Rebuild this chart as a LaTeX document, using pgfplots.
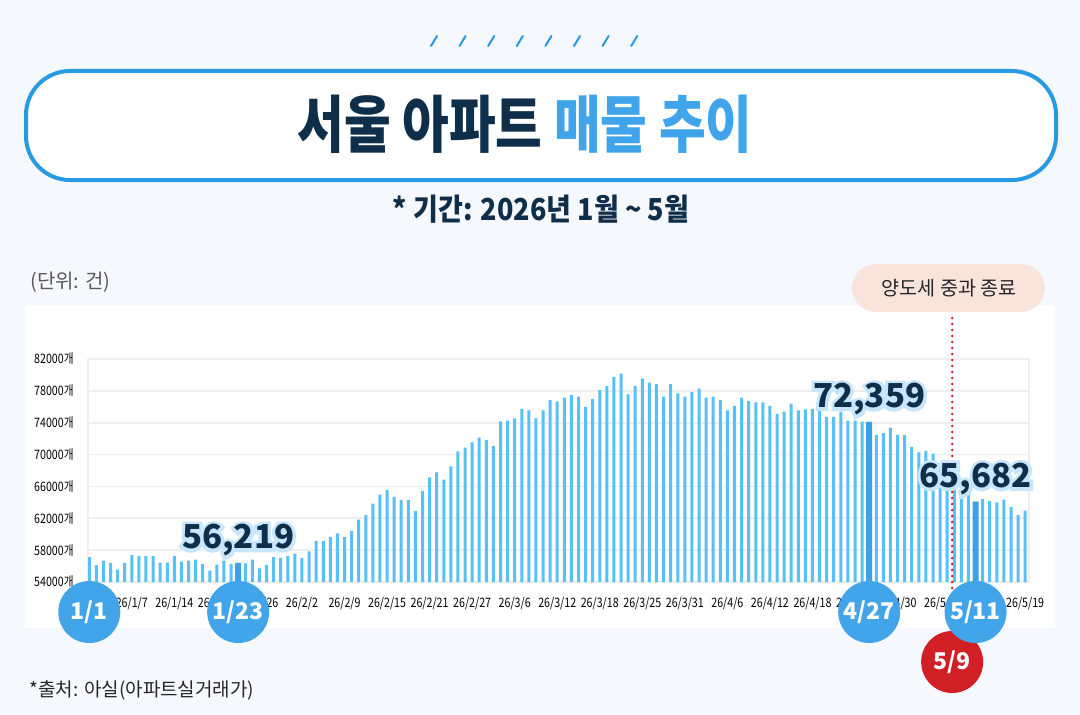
\documentclass[border=0pt]{standalone}
\usepackage{fontspec}
\setmainfont{Noto Sans CJK KR}
\newfontfamily\glowfont{Noto Sans CJK KR}[FakeBold=20, BoldFeatures={FakeBold=20}]
\usepackage{graphicx}
\usepackage{pgfplots}
\pgfplotsset{compat=1.18}
\usepackage{pgfplotstable}
\usetikzlibrary{calc}

\definecolor{bgc}{RGB}{245,249,254}
\definecolor{tblue}{RGB}{40,154,226}
\definecolor{navy}{RGB}{14,46,74}
\definecolor{titleblue}{RGB}{64,164,234}
\definecolor{lbar}{RGB}{88,192,246}
\definecolor{dbar}{RGB}{62,160,232}
\definecolor{cblue}{RGB}{66,165,234}
\definecolor{cred}{RGB}{208,32,38}
\definecolor{badgec}{RGB}{249,228,220}
\definecolor{glowc}{RGB}{200,230,251}
\definecolor{gridc}{RGB}{238,238,238}

\newcommand\sx[1]{\scalebox{0.82}[1]{#1}}
\newcommand\valfont{\fontsize{16.5pt}{18pt}\selectfont\bfseries}
\newcommand\glow[2]{%
  \node[font=\glowfont\valfont, text=glowc, anchor=base, inner sep=0pt] at ($(#1)+(0,7pt)$) {#2};%
  \node[font=\valfont, text=navy, anchor=base, inner sep=0pt] at ($(#1)+(0,7pt)$) {#2};%
}

\pgfplotstableread{
idx val
0 57140
1 56135
2 56680
3 56390
4 55550
5 56390
6 57390
7 57260
8 57260
9 57260
10 56430
11 56430
12 57260
13 56550
14 56680
15 56800
16 56260
17 55420
18 56180
19 56680
20 56260
21 56390
22 56330
23 56800
24 55720
25 56130
26 57140
27 57010
28 57260
29 57560
30 57010
31 57850
32 59150
33 59150
34 59650
35 60120
36 59650
37 60400
38 61830
39 62410
40 63840
41 64970
42 65560
43 64680
44 64300
45 64300
46 62940
47 65430
48 67150
49 67780
50 66850
51 68530
52 70410
53 70870
54 71540
55 72120
56 71830
57 71080
58 74180
59 74260
60 74560
61 75730
62 75560
63 74560
64 75560
65 76860
66 76690
67 77150
68 77450
69 77280
70 75980
71 76990
72 78110
73 78580
74 79710
75 80160
76 77570
77 78580
78 79540
79 79040
80 78870
81 77280
82 78870
83 77700
84 77280
85 77830
86 78280
87 77150
88 77280
89 76860
90 75560
91 76110
92 77150
93 76730
94 76570
95 76570
96 76110
97 75100
98 75390
99 76390
100 75560
101 75690
102 75730
103 75520
104 74720
105 74720
106 75390
107 74260
108 74260
109 74130
110 74100
111 72460
112 72680
113 73380
114 72460
115 72460
116 70960
117 70290
118 70460
119 70120
120 68900
121 68200
122 67400
123 66600
124 66000
125 64090
126 64420
127 64170
128 64010
129 64340
130 63420
131 62410
132 62960
}\mydata

\pgfplotstableread{
idx val
21 56390
110 74100
125 64090
}\hldata

\begin{document}
\begin{tikzpicture}
\useasboundingbox (0,0) rectangle (540pt,357pt);
\fill[bgc] (0,0) rectangle (540pt,357pt);
\begin{scope}[x=0.5pt,y=-0.5pt,shift={(0pt,357pt)}]
  \foreach \i in {0,...,7}{\draw[tblue, line width=1pt, line cap=round] ({431+28.6*\i},46) -- ({437+28.6*\i},36);}
  \draw[tblue, line width=2pt, fill=white, rounded corners=22pt] (26,71) rectangle (1056,180);
  \node[font=\fontsize{27pt}{30pt}\selectfont\bfseries, inner sep=0pt] at (525,124)
     {\scalebox{0.94}[1.15]{\textcolor{navy}{서울 아파트} \textcolor{titleblue}{매물 추이}}};
  \node[font=\fontsize{13.5pt}{15pt}\selectfont\bfseries, text=navy, inner sep=0pt] at (541,209)
     {\scalebox{1}[1.12]{* 기간: 2026년 1월 \textasciitilde{} 5월}};
  \node[font=\fontsize{10pt}{12pt}\selectfont, text=black!65, anchor=west, inner sep=0pt] at (30,282) {(단위: 건)};
  \fill[white] (25,305) rectangle (1055,628);
  \fill[badgec, rounded corners=12pt] (852,264) rectangle (1045,312);
  \node[font=\fontsize{9.8pt}{12pt}\selectfont, text=black!85, inner sep=0pt] at (949,288) {양도세 중과 종료};
  \node[font=\fontsize{9.5pt}{12pt}\selectfont, text=black!85, anchor=west, inner sep=0pt] at (29,690) {*출처: 아실(아파트실거래가)};
\end{scope}

\begin{axis}[
  at={(44pt,66pt)}, anchor=south west, scale only axis,
  width=470.5pt, height=111.5pt,
  xmin=-0.18, xmax=132.54, ymin=54000, ymax=82000,
  axis line style={draw=gridc, line width=0.7pt},
  ymajorgrids, grid style={draw=gridc, line width=0.9pt},
  major tick length=0pt,
  scaled y ticks=false,
  ytick={54000,58000,62000,66000,70000,74000,78000,82000},
  yticklabels={\sx{54000개},\sx{58000개},\sx{62000개},\sx{66000개},\sx{70000개},\sx{74000개},\sx{78000개},\sx{82000개}},
  yticklabel style={font=\fontsize{6.5pt}{7pt}\selectfont, text=black, anchor=east, inner sep=0pt, xshift=-7pt},
  xtick={0,6,...,132},
  xticklabels={{},\sx{26/1/7},\sx{26/1/14},\sx{26/1/20},\sx{26/1/26},\sx{26/2/2},\sx{26/2/9},\sx{26/2/15},\sx{26/2/21},\sx{26/2/27},\sx{26/3/6},\sx{26/3/12},\sx{26/3/18},\sx{26/3/25},\sx{26/3/31},\sx{26/4/6},\sx{26/4/12},\sx{26/4/18},\sx{26/4/24},\sx{26/4/30},\sx{26/5/6},{},\sx{26/5/19}},
  xticklabel style={font=\fontsize{6.5pt}{7pt}\selectfont, text=black, anchor=center, inner sep=0pt, yshift=-10.5pt},
  ybar,
]
\addplot[draw=none, fill=lbar, bar width=1.5pt, bar shift=0pt] table[x=idx,y=val]{\mydata};
\addplot[draw=none, fill=dbar, bar width=3pt, bar shift=0pt] table[x=idx,y=val]{\hldata};
\coordinate (p0) at (axis cs:0,54000);
\coordinate (p21) at (axis cs:21,54000);
\coordinate (p110) at (axis cs:110,54000);
\coordinate (p125) at (axis cs:125,54000);
\coordinate (t21) at (axis cs:21,56390);
\coordinate (t110) at (axis cs:110,74100);
\coordinate (t125) at (axis cs:125,64090);
\coordinate (pred) at (axis cs:121.7,54000);
\end{axis}

% red dotted line
\draw[cred, line width=1.4pt, dash pattern=on 0pt off 3pt, line cap=round] ($(pred)+(0,-30pt)$) -- ($(pred)+(0,134pt)$);
% connectors
\foreach \p in {p21,p110,p125}{\fill[dbar] ($(\p)+(-1.5pt,0.5pt)$) rectangle ($(\p)+(1.5pt,-15pt)$);}
% red circle
\fill[cred] ($(pred)+(0,-40pt)$) circle (15.5pt);
\node[font=\fontsize{11.5pt}{12pt}\selectfont\bfseries, text=white] at ($(pred)+(0,-40pt)$) {5/9};
% blue circles
\fill[cblue] ($(p0)+(0,-15pt)$) circle (15.5pt);
\node[font=\fontsize{11.5pt}{12pt}\selectfont\bfseries, text=white] at ($(p0)+(0,-15pt)$) {1/1};
\fill[cblue] ($(p21)+(0,-15pt)$) circle (15.5pt);
\node[font=\fontsize{11.5pt}{12pt}\selectfont\bfseries, text=white] at ($(p21)+(0,-15pt)$) {1/23};
\fill[cblue] ($(p110)+(0,-15pt)$) circle (15.5pt);
\node[font=\fontsize{11.5pt}{12pt}\selectfont\bfseries, text=white] at ($(p110)+(0,-15pt)$) {4/27};
\fill[cblue] ($(p125)+(0,-15pt)$) circle (15.5pt);
\node[font=\fontsize{11.5pt}{12pt}\selectfont\bfseries, text=white] at ($(p125)+(0,-15pt)$) {5/11};
% value labels
\glow{t21}{56,219}
\glow{t110}{72,359}
\glow{t125}{65,682}
\end{tikzpicture}
\end{document}
